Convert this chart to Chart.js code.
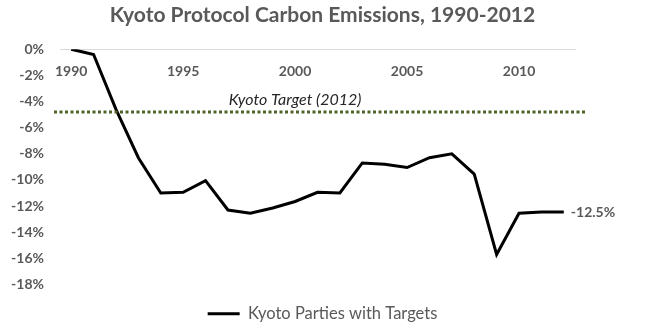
<!DOCTYPE html>
<html>
<head>
<meta charset="utf-8">
<title>Kyoto Protocol Carbon Emissions</title>
<script src="https://cdn.jsdelivr.net/npm/chart.js@4/dist/chart.umd.min.js"></script>
<style>
    html, body { margin: 0; padding: 0; background: #ffffff; }
    #chartBox { width: 645px; height: 336px; }
</style>
</head>
<body>
<div id="chartBox"><canvas id="emissionsChart"></canvas></div>
<script>
// chart data
const years = ['1990', '1991', '1992', '1993', '1994', '1995', '1996', '1997', '1998', '1999', '2000',
    '2001', '2002', '2003', '2004', '2005', '2006', '2007', '2008', '2009', '2010', '2011', '2012'];
const emissionsChange = [0, -0.4, -4.6, -8.3, -11.0, -10.95, -10.05, -12.3, -12.55, -12.15, -11.65,
    -10.95, -11.0, -8.7, -8.8, -9.05, -8.3, -8.0, -9.55, -15.7, -12.55, -12.45, -12.45];
const kyotoTarget = -4.8;
const yTicks = [0, -2, -4, -6, -8, -10, -12, -14, -16, -18];
const yearLabels = ['1990', '1995', '2000', '2005', '2010'];
const endLabel = '-12.5%';

const fontFamily = "Lato, 'Open Sans', sans-serif";
const textGray = '#595959';

// dotted target line with its caption
const targetLinePlugin = {
    id: 'targetLine',
    afterDatasetsDraw(chart) {
        const ctx = chart.ctx;
        const area = chart.chartArea;
        const y = chart.scales.y.getPixelForValue(kyotoTarget);
        ctx.save();
        ctx.strokeStyle = '#4f6228';
        ctx.lineWidth = 3;
        ctx.setLineDash([3, 2.5]);
        ctx.beginPath();
        ctx.moveTo(area.left - 6, y);
        ctx.lineTo(area.right + 12, y);
        ctx.stroke();
        ctx.setLineDash([]);
        ctx.fillStyle = '#262626';
        ctx.font = 'italic 16px ' + fontFamily;
        ctx.textAlign = 'center';
        ctx.textBaseline = 'bottom';
        ctx.fillText('Kyoto Target (2012)', chart.scales.x.getPixelForValue(10), y - 4);
        ctx.restore();
    }
};

// value label next to the last point
const endLabelPlugin = {
    id: 'endLabel',
    afterDatasetsDraw(chart) {
        const meta = chart.getDatasetMeta(0);
        const last = meta.data[meta.data.length - 1];
        const ctx = chart.ctx;
        ctx.save();
        ctx.fillStyle = textGray;
        ctx.font = 'bold 14px ' + fontFamily;
        ctx.textAlign = 'left';
        ctx.textBaseline = 'middle';
        ctx.fillText(endLabel, last.x + 7, last.y + 1);
        ctx.restore();
    }
};

function renderChart() {
    const ctx = document.getElementById('emissionsChart').getContext('2d');
    new Chart(ctx, {
        type: 'line',
        data: {
            labels: years,
            datasets: [{
                label: 'Kyoto Parties with Targets',
                data: emissionsChange,
                borderColor: '#000000',
                backgroundColor: '#000000',
                borderWidth: 3,
                pointRadius: 0,
                tension: 0
            }]
        },
        options: {
            responsive: true,
            maintainAspectRatio: false,
            animation: false,
            layout: {
                padding: { left: 0, right: 0, top: 0, bottom: 4 }
            },
            plugins: {
                title: {
                    display: true,
                    text: 'Kyoto Protocol Carbon Emissions, 1990-2012',
                    color: textGray,
                    font: { family: fontFamily, size: 21, weight: 'bold' },
                    padding: { top: 3, bottom: 21 }
                },
                legend: {
                    position: 'bottom',
                    labels: {
                        color: textGray,
                        font: { family: fontFamily, size: 16.5 },
                        usePointStyle: true,
                        pointStyle: 'line',
                        pointStyleWidth: 32,
                        padding: 21
                    }
                },
                tooltip: { enabled: false }
            },
            scales: {
                x: {
                    position: { y: 0 },
                    offset: true,
                    grid: { display: false },
                    border: { display: true, color: '#d9d9d9', width: 1 },
                    ticks: {
                        autoSkip: false,
                        maxRotation: 0,
                        color: textGray,
                        font: { family: fontFamily, size: 14, weight: 'bold' },
                        padding: 6,
                        callback: function (value) {
                            const label = this.getLabelForValue(value);
                            return yearLabels.includes(label) ? label : '';
                        }
                    }
                },
                y: {
                    min: yTicks[yTicks.length - 1],
                    max: yTicks[0],
                    grid: { display: false },
                    border: { display: false },
                    afterBuildTicks: function (scale) {
                        scale.ticks = yTicks.map(v => ({ value: v }));
                    },
                    afterFit: function (scale) {
                        scale.width = 60;
                    },
                    ticks: {
                        color: textGray,
                        font: { family: fontFamily, size: 14, weight: 'bold' },
                        padding: 8,
                        callback: value => value + '%'
                    }
                },
                // empty axis on the right, keeps room for the end label
                yRight: {
                    type: 'linear',
                    position: 'right',
                    grid: { display: false },
                    border: { display: false },
                    ticks: { display: false },
                    afterFit: function (scale) {
                        scale.width = 70;
                    }
                }
            }
        },
        plugins: [targetLinePlugin, endLabelPlugin]
    });
}

renderChart();
</script>
</body>
</html>
